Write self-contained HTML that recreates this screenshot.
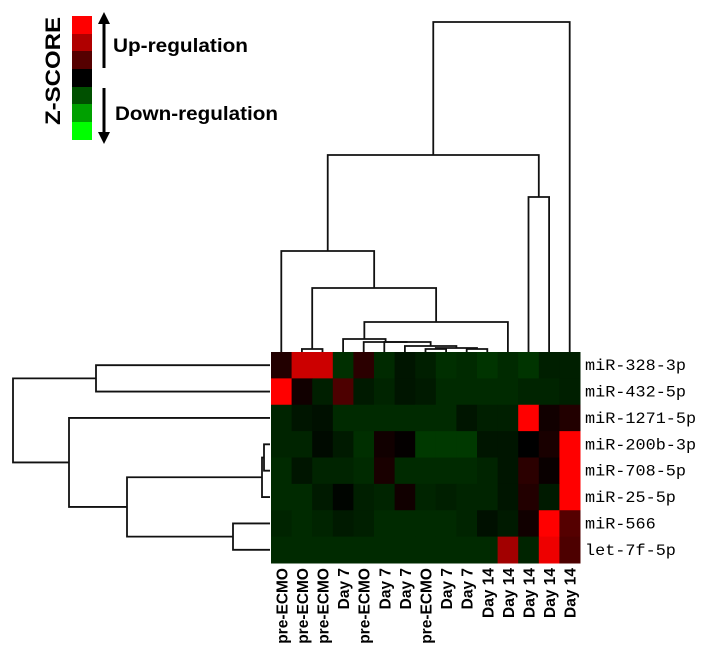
<!DOCTYPE html>
<html><head><meta charset="utf-8"><style>
html,body{margin:0;padding:0;background:#fff;}
svg{display:block;}
</style></head><body>
<svg id="chart" width="706" height="651" xmlns="http://www.w3.org/2000/svg">
<g>
<rect x="72" y="16" width="20" height="18" fill="#ff0000"/>
<rect x="72" y="34" width="20" height="17" fill="#b00000"/>
<rect x="72" y="51" width="20" height="18" fill="#550000"/>
<rect x="72" y="69" width="20" height="18" fill="#000000"/>
<rect x="72" y="87" width="20" height="17" fill="#005000"/>
<rect x="72" y="104" width="20" height="18" fill="#00a000"/>
<rect x="72" y="122" width="20" height="18" fill="#00ff00"/>
<text transform="translate(60,71) rotate(-90)" text-anchor="middle" textLength="108" lengthAdjust="spacingAndGlyphs" font-family="Liberation Sans, sans-serif" font-weight="bold" font-size="21">Z-SCORE</text>
<line x1="104" y1="22" x2="104" y2="68" stroke="#000" stroke-width="3"/>
<polygon points="98,24 110,24 104,12" fill="#000"/>
<line x1="104" y1="88" x2="104" y2="134" stroke="#000" stroke-width="3"/>
<polygon points="98,132 110,132 104,144" fill="#000"/>
<text x="113" y="52" textLength="135" lengthAdjust="spacingAndGlyphs" font-family="Liberation Sans, sans-serif" font-weight="bold" font-size="19">Up-regulation</text>
<text x="115" y="120" textLength="163" lengthAdjust="spacingAndGlyphs" font-family="Liberation Sans, sans-serif" font-weight="bold" font-size="19">Down-regulation</text>
</g>
<g id="cells"></g>
<g id="coldendro" fill="none" stroke="#111" stroke-width="1.8"></g>
<g id="rowdendro" fill="none" stroke="#111" stroke-width="1.8"></g>
<g id="rowlabels"></g>
<g id="collabels"></g>
</svg>
<script>
const samples = ["pre-ECMO","pre-ECMO","pre-ECMO","Day 7","pre-ECMO","Day 7","Day 7","pre-ECMO","Day 7","Day 7","Day 14","Day 14","Day 14","Day 14","Day 14"];
const mirnas = ["miR-328-3p","miR-432-5p","miR-1271-5p","miR-200b-3p","miR-708-5p","miR-25-5p","miR-566","let-7f-5p"];
const zRow1 = [0.4,2.4,2.4,-0.9,0.5,-0.8,-0.4,-0.6,-0.9,-0.8,-1.0,-0.8,-1.0,-0.6,-0.6];
const zRow2 = [3,0.2,-0.6,0.9,-0.5,-0.7,-0.4,-0.5,-0.8,-0.8,-0.8,-0.8,-0.7,-0.7,-0.6];
const zRow3 = [-0.7,-0.4,-0.3,-0.8,-0.8,-0.8,-0.8,-0.8,-0.8,-0.4,-0.6,-0.6,3,0.2,0.4];
const zRow4 = [-0.7,-0.7,-0.2,-0.5,-0.9,0.2,0.05,-1.1,-1.1,-1.1,-0.4,-0.4,0,0.3,3];
const zRow5 = [-0.8,-0.4,-0.7,-0.7,-0.8,0.3,-0.8,-0.8,-0.8,-0.8,-0.7,-0.4,0.5,0.1,3];
const zRow6 = [-0.8,-0.8,-0.5,-0.1,-0.6,-0.7,0.2,-0.7,-0.6,-0.7,-0.7,-0.4,0.4,-0.5,3];
const zRow7 = [-0.7,-0.8,-0.7,-0.5,-0.6,-0.8,-0.8,-0.8,-0.8,-0.7,-0.3,-0.5,0.2,3,1.0];
const zRow8 = [-0.8,-0.8,-0.8,-0.8,-0.8,-0.8,-0.8,-0.8,-0.8,-0.8,-0.8,1.9,-0.7,2.8,0.9];
const zValues = [zRow1,zRow2,zRow3,zRow4,zRow5,zRow6,zRow7,zRow8];
// dendrogram merges: [childA, childB, height]
const colMerges = [[1,2,3],[7,8,3],[9,10,3],[16,17,4],[6,18,6],[5,19,10],[4,20,10],[3,21,13],[22,11,30],[15,23,64],[0,24,101],[12,13,155],[25,26,197],[27,14,330]];
const rowMerges = [[0,1,174],[3,4,6],[9,5,8],[6,7,37],[10,11,143],[2,12,201],[8,13,257]];

const NS="http://www.w3.org/2000/svg";
const X0=271,X1=580,Y0=352,Y1=563;
const cw=(X1-X0)/samples.length, rh=(Y1-Y0)/mirnas.length;
const xCol=i=>X0+cw*(i+0.5), yRow=i=>Y0+rh*(i+0.5);
function color(z){
  if(z>=0){const r=Math.round(255*Math.min(z/3,1));return `rgb(${r},0,0)`;}
  const g=Math.round(Math.min(-z*52,64));return `rgb(0,${g},0)`;
}
const cells=document.getElementById('cells');
zValues.forEach((row,r)=>row.forEach((z,c)=>{
  const el=document.createElementNS(NS,'rect');
  el.setAttribute('x',X0+cw*c);el.setAttribute('y',Y0+rh*r);
  el.setAttribute('width',cw+0.5);el.setAttribute('height',rh+0.5);
  el.setAttribute('fill',color(z));
  
  
  cells.appendChild(el);
}));
const cd=document.getElementById('coldendro');
const cpos=samples.map((s,i)=>({p:xCol(i),h:0}));
colMerges.forEach(m=>{
  const a=cpos[m[0]],b=cpos[m[1]],y=Y0-m[2];
  const el=document.createElementNS(NS,'path');
  el.setAttribute('d',`M${a.p},${Y0-a.h}V${y}H${b.p}V${Y0-b.h}`);
  
  
  cd.appendChild(el);
  cpos.push({p:(a.p+b.p)/2,h:m[2]});
});
const rd=document.getElementById('rowdendro');
const RX=270;
const rpos=mirnas.map((s,i)=>({p:yRow(i),h:0}));
rowMerges.forEach(m=>{
  const a=rpos[m[0]],b=rpos[m[1]],x=RX-m[2];
  const el=document.createElementNS(NS,'path');
  el.setAttribute('d',`M${RX-a.h},${a.p}H${x}V${b.p}H${RX-b.h}`);
  
  
  rd.appendChild(el);
  rpos.push({p:(a.p+b.p)/2,h:m[2]});
});
const rl=document.getElementById('rowlabels');
mirnas.forEach((n,i)=>{
  const t=document.createElementNS(NS,'text');
  t.setAttribute('x',585);t.setAttribute('y',yRow(i)+5);
  t.setAttribute('font-family','Liberation Mono, monospace');t.setAttribute('font-size','16');
  t.setAttribute('textLength',n.length*10.1);t.setAttribute('lengthAdjust','spacingAndGlyphs');
  t.textContent=n;
  
  
  rl.appendChild(t);
});
const cl=document.getElementById('collabels');
samples.forEach((n,i)=>{
  const t=document.createElementNS(NS,'text');
  const x=xCol(i)+6;
  t.setAttribute('transform',`translate(${x},568) rotate(-90)`);
  t.setAttribute('text-anchor','end');
  t.setAttribute('font-family','Liberation Sans, sans-serif');t.setAttribute('font-weight','bold');t.setAttribute('font-size','15.5');
  t.textContent=n;
  
  
  cl.appendChild(t);
});
</script>
</body></html>
